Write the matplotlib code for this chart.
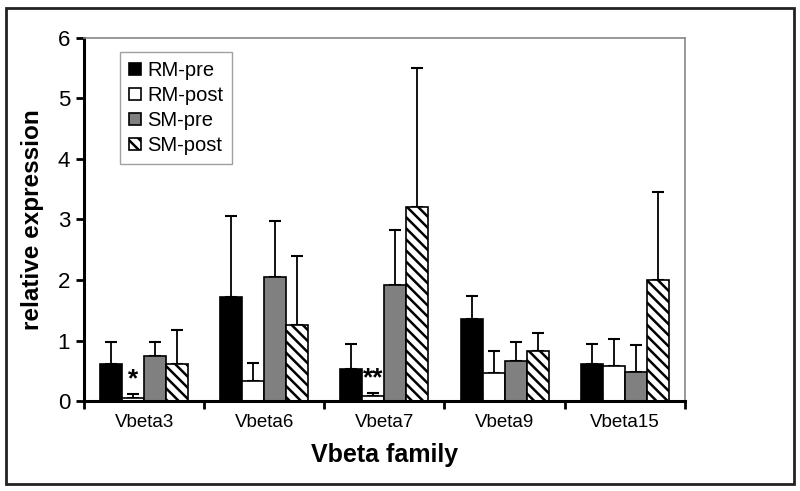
import matplotlib.pyplot as plt
from matplotlib.patches import Rectangle
import numpy as np

plt.rcParams['font.family'] = ['Liberation Sans', 'DejaVu Sans']
plt.rcParams['hatch.linewidth'] = 1.8

families = ['Vbeta3', 'Vbeta6', 'Vbeta7', 'Vbeta9', 'Vbeta15']
series = ['RM-pre', 'RM-post', 'SM-pre', 'SM-post']

rm_pre = [0.61, 1.72, 0.53, 1.36, 0.61]
rm_pre_top = [0.98, 3.05, 0.94, 1.73, 0.95]
rm_post = [0.05, 0.34, 0.08, 0.47, 0.58]
rm_post_top = [0.12, 0.63, 0.14, 0.82, 1.03]
sm_pre = [0.74, 2.05, 1.91, 0.66, 0.48]
sm_pre_top = [0.98, 2.98, 2.82, 0.97, 0.93]
sm_post = [0.61, 1.26, 3.2, 0.82, 2.0]
sm_post_top = [1.18, 2.39, 5.5, 1.13, 3.45]

# significance marks on RM-post bars
stars = {0: '*', 2: '**'}

values = [rm_pre, rm_post, sm_pre, sm_post]
tops = [rm_pre_top, rm_post_top, sm_pre_top, sm_post_top]
colors = ['black', 'white', '#808080', 'white']
hatches = [None, None, None, '\\\\\\']

fig = plt.figure(figsize=(8, 4.91), dpi=100)
ax = fig.add_axes([0.105, 0.183, 0.751, 0.74])

x = np.arange(len(families))
w = 0.183
for i in range(4):
    pos = x + (i - 1.5) * w
    vals = np.array(values[i])
    err = np.array(tops[i]) - vals
    ax.bar(pos, vals, w, color=colors[i], edgecolor='black', linewidth=1.2,
           hatch=hatches[i], label=series[i], zorder=2)
    ax.errorbar(pos, vals, yerr=[np.zeros_like(vals), err], fmt='none',
                ecolor='black', elinewidth=1.3, capsize=4, capthick=1.5, zorder=1)

for k, s in stars.items():
    ax.text(x[k] - 0.5 * w, rm_post_top[k] + 0.04, s, ha='center', va='bottom',
            fontsize=19, fontweight='bold')

ax.set_xlim(-0.5, len(families) - 0.5)
ax.set_ylim(0, 6)
ax.set_yticks(range(7))
ax.set_xticks(np.arange(-0.5, len(families)))
ax.set_xticklabels([])
ax.set_xticks(x, minor=True)
ax.set_xticklabels(families, minor=True, fontsize=13.5)
ax.tick_params(axis='x', which='minor', length=0, pad=9)
ax.tick_params(axis='x', which='major', length=6, width=2, direction='out')
ax.tick_params(axis='y', length=6, width=2, labelsize=16, pad=4)

for s in ['left', 'bottom']:
    ax.spines[s].set_linewidth(2.2)
for s in ['top', 'right']:
    ax.spines[s].set_color('#888888')
    ax.spines[s].set_linewidth(1.2)

ax.set_ylabel('relative expression', fontsize=17.5, fontweight='bold', labelpad=10)
ax.set_xlabel('Vbeta family', fontsize=18, fontweight='bold', labelpad=9)

leg = ax.legend(loc='upper left', bbox_to_anchor=(0.06, 0.961), borderaxespad=0,
                fontsize=14.5, frameon=True, fancybox=False, edgecolor='#888888',
                handlelength=0.6, handleheight=0.6, handletextpad=0.3,
                labelspacing=0.3, borderpad=0.45)
leg.get_frame().set_linewidth(1.0)

fig.patches.append(Rectangle((0.007, 0.014), 0.985, 0.97, transform=fig.transFigure,
                             fill=False, edgecolor='#222222', linewidth=2))

fig.savefig('out.png', dpi=100)
